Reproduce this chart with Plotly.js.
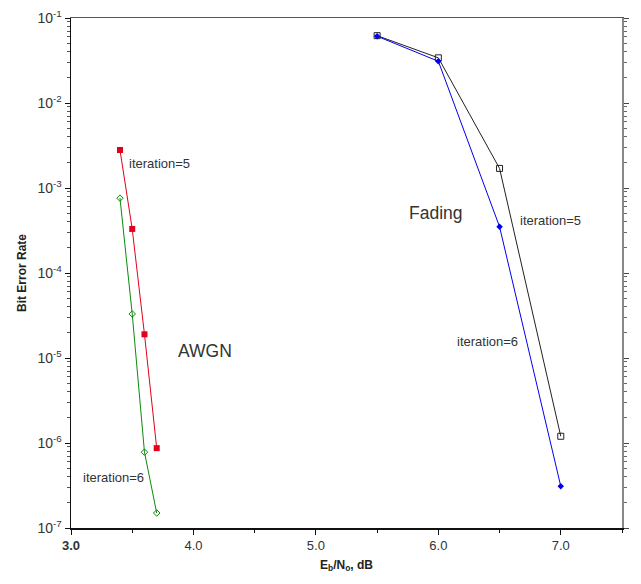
<!DOCTYPE html>
<html>
<head>
<meta charset="utf-8">
<script src="https://cdn.plot.ly/plotly-3.0.1.min.js"></script>
<style>html,body{margin:0;padding:0;background:#fff;}#chart{width:641px;height:584px;}</style>
</head>
<body>
<div id="chart"></div>
<script>
// Data
const awgnX = [3.4, 3.5, 3.6, 3.7];
const awgnIter5 = [2.8e-3, 3.3e-4, 1.9e-5, 8.7e-7];
const awgnIter6 = [7.6e-4, 3.3e-5, 7.8e-7, 1.5e-7];
const fadingX = [5.5, 6.0, 6.5, 7.0];
const fadingIter5 = [6.2e-2, 3.4e-2, 1.7e-3, 1.2e-6];
const fadingIter6 = [6.1e-2, 3.1e-2, 3.5e-4, 3.1e-7];
const xTickVals = [3, 4, 5, 6, 7];
const xTickText = ['<b>3.0</b>', '4.0', '5.0', '6.0', '7.0'];
const yExponents = [-7, -6, -5, -4, -3, -2, -1];

const yTickVals = yExponents.map(e => Math.pow(10, e));
const yTickText = yExponents.map(e => '10<sup>' + e + '</sup>');
const yMinor = [];
yExponents.slice(0, -1).forEach(e => { for (let k = 2; k <= 9; k++) yMinor.push(k * Math.pow(10, e)); });

const font = 'Liberation Sans, Arial, sans-serif';

const traces = [
  {x: awgnX, y: awgnIter5, mode: 'lines+markers', line: {color: '#e3001b', width: 1},
   marker: {symbol: 'square', size: 6, color: '#e3001b'}},
  {x: awgnX, y: awgnIter6, mode: 'lines+markers', line: {color: '#0a8a0a', width: 1},
   marker: {symbol: 'diamond-open', size: 5, color: '#0a8a0a', line: {width: 1}}},
  {x: fadingX, y: fadingIter5, mode: 'lines+markers', line: {color: '#222', width: 1},
   marker: {symbol: 'square-open', size: 6, color: '#222', line: {width: 1}}},
  {x: fadingX, y: fadingIter6, mode: 'lines+markers', line: {color: '#0000ee', width: 1},
   marker: {symbol: 'diamond', size: 5, color: '#0000ee'}},
  {x: [], y: [], yaxis: 'y2', xaxis: 'x2', showlegend: false}
];

const ann = (x, logy, text, size) => ({x: x, y: logy, text: text, showarrow: false,
  xanchor: 'left', yanchor: 'middle', font: {family: font, size: size, color: '#333'}});

const layout = {
  width: 641, height: 584,
  margin: {l: 71, r: 19, t: 18, b: 56},
  paper_bgcolor: '#fff', plot_bgcolor: '#fff',
  showlegend: false,
  font: {family: font, color: '#222'},
  xaxis: {
    range: [3, 7.5], showline: true, linecolor: '#111', linewidth: 1.5,
    showgrid: false, zeroline: false,
    tickmode: 'array', tickvals: xTickVals, ticktext: xTickText,
    ticks: 'outside', ticklen: 5, tickcolor: '#111',
    minor: {tickmode: 'array', tickvals: [3.5, 4.5, 5.5, 6.5, 7.5], ticks: 'outside', ticklen: 3, tickcolor: '#111'},
    tickfont: {family: font, size: 13, color: '#333'},
    title: {text: '<b>E<sub>b</sub>/N<sub>o</sub>, dB</b>', font: {family: font, size: 12, color: '#222'}, standoff: 8}
  },
  yaxis: {
    type: 'log', range: [-7, -1], showline: true, linecolor: '#111', linewidth: 1.5,
    showgrid: false, zeroline: false,
    tickmode: 'array', tickvals: yTickVals, ticktext: yTickText,
    ticks: 'outside', ticklen: 5, tickcolor: '#111',
    minor: {tickmode: 'array', tickvals: yMinor, ticks: 'outside', ticklen: 3, tickcolor: '#555'},
    tickfont: {family: font, size: 14, color: '#333'},
    title: {text: '<b>Bit Error Rate</b>', font: {family: font, size: 12, color: '#222'}, standoff: 8}
  },
  xaxis2: {overlaying: 'x', side: 'top', range: [3, 7.5], showline: true, linecolor: '#555', linewidth: 1.5,
    showticklabels: false, ticks: '', showgrid: false, zeroline: false},
  yaxis2: {overlaying: 'y', side: 'right', type: 'log', range: [-7, -1], showline: true, linecolor: '#888', linewidth: 2,
    showgrid: false, zeroline: false, showticklabels: false,
    tickmode: 'array', tickvals: yTickVals, ticks: 'outside', ticklen: 5, tickcolor: '#444',
    minor: {tickmode: 'array', tickvals: yMinor, ticks: 'outside', ticklen: 3, tickcolor: '#666'}},
  annotations: [
    ann(3.46, -2.71, 'iteration=5', 13),
    ann(3.08, -6.40, 'iteration=6', 13),
    ann(3.86, -4.92, 'AWGN', 17.5),
    ann(5.74, -3.29, 'Fading', 17.5),
    ann(6.65, -3.38, 'iteration=5', 13),
    ann(6.14, -4.80, 'iteration=6', 13)
  ]
};

Plotly.newPlot('chart', traces, layout, {displayModeBar: false, staticPlot: true});
</script>
</body>
</html>
